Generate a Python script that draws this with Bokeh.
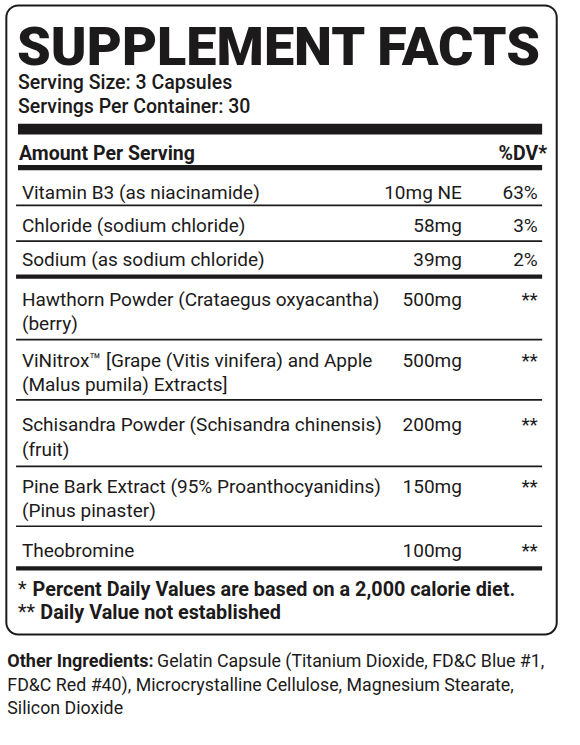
from bokeh.plotting import figure
from bokeh.models import Range1d, BoxAnnotation, ColumnDataSource
from bokeh.core.properties import value
from bokeh.embed import file_html
from bokeh.resources import INLINE

# ---------------- data ----------------
title = "SUPPLEMENT FACTS"
serving_lines = ["Serving Size: 3 Capsules", "Servings Per Container: 30"]
header_left = "Amount Per Serving"
header_right = "%DV*"

nutrients = [
    "Vitamin B3 (as niacinamide)",
    "Chloride (sodium chloride)",
    "Sodium (as sodium chloride)",
]
nutrient_amounts = ["10mg NE", "58mg", "39mg"]
nutrient_dv = ["63%", "3%", "2%"]

ingredients = [
    "Hawthorn Powder (Crataegus oxyacantha)\n(berry)",
    "ViNitrox\u2122 [Grape (Vitis vinifera) and Apple\n(Malus pumila) Extracts]",
    "Schisandra Powder (Schisandra chinensis)\n(fruit)",
    "Pine Bark Extract (95% Proanthocyanidins)\n(Pinus pinaster)",
    "Theobromine",
]
ingredient_amounts = ["500mg", "500mg", "200mg", "150mg", "100mg"]
ingredient_dv = ["**", "**", "**", "**", "**"]

footnote_marks = ["*", "**"]
footnote_texts = ["Percent Daily Values are based on a 2,000 calorie diet.",
                  "Daily Value not established"]

other_label = "Other Ingredients:"
other_lines = [
    "Gelatin Capsule (Titanium Dioxide, FD&C Blue #1,",
    "FD&C Red #40), Microcrystalline Cellulose, Magnesium Stearate,",
    "Silicon Dioxide",
]

# ---------------- layout (reference pixel space, y downwards) ----------------
TITLE_FONT = "Roboto Black"
MED_FONT = "Roboto Medium"
FONT = "Roboto"
INK = "#1c1a1a"
BODY = 19.0
W, H = 564, 729
YS = H / 745.0
BASE_SHIFT = 0.34          # empirical baseline correction (em)
row_baselines = [202.7, 236.5, 271.5, 311.7, 374.5, 440.0, 503.0, 568.3]
row_rules = [209.3, 246.0, 282.2, 346.5, 408.2, 476.0, 537.3, 580.3]
LINE2 = 25.0
NAME_X, AMT_X, DV_X = 22, 474.5, 552.5
RULE_L, RULE_R = 16, 557

p = figure(width=W, height=H, x_range=Range1d(0, 580), y_range=Range1d(745, 0),
           output_backend="svg", toolbar_location=None, min_border=0,
           x_axis_location=None, y_axis_location=None, background_fill_color="white",
           border_fill_color="white")
p.grid.visible = False
p.outline_line_color = None

# outer rounded box
p.add_layout(BoxAnnotation(left=6, right=572, top=5, bottom=648, fill_color=None,
                           line_color=INK, line_alpha=1.0, line_width=2.0,
                           border_radius=12))

def txt(xs, ys, texts, size=BODY, bold=False, align="left", font=FONT):
    ys = [y - BASE_SHIFT * size / YS for y in ys]
    src = ColumnDataSource(dict(x=xs, y=ys, t=texts))
    p.text(x="x", y="y", text="t", source=src, text_font=value(font),
           text_font_size=value(f"{size}px"), text_font_style="bold" if bold else "normal",
           text_align=align, text_baseline="alphabetic", text_color=INK,
           text_line_height=1.0)

# title and serving info
txt([17], [66], [title], size=54.0, font=TITLE_FONT)
txt([18, 18], [91, 115], serving_lines, size=19.5, font=MED_FONT)

# heavy bars and header
p.quad(left=[18, 18], right=[RULE_R, RULE_R], top=[126, 168], bottom=[137, 173.5],
       fill_color=INK, line_color=None)
txt([19], [163], [header_left], size=19.5, bold=True)
txt([562], [163], [header_right], size=19.5, bold=True, align="right")

# rows
names = nutrients + ingredients
amounts = nutrient_amounts + ingredient_amounts
dvs = nutrient_dv + ingredient_dv
nx, ny, nt = [], [], []
for name, base in zip(names, row_baselines):
    for j, part in enumerate(name.split("\n")):
        nx.append(NAME_X)
        ny.append(base + j * LINE2)
        nt.append(part)
txt(nx, ny, nt)
txt([AMT_X] * len(amounts), row_baselines, amounts, align="right")
txt([DV_X] * len(dvs), row_baselines, dvs, align="right")

# rules between rows
group_ends = {len(nutrients) - 1, len(names) - 1}
widths = [4.4 if i in group_ends else 1.7 for i in range(len(names))]
p.segment(x0=[RULE_L] * len(row_rules), x1=[RULE_R] * len(row_rules),
          y0=row_rules, y1=row_rules, line_color=INK, line_width=widths)

# footnotes
fb = [609, 632]
txt([18, 18], fb, footnote_marks, size=19.8)
txt([18 + 8 * len(m) + 7 for m in footnote_marks], fb, footnote_texts, bold=True, size=19.8)

# other ingredients
ob = [681, 705, 729]
txt([7], [ob[0]], [other_label], bold=True, size=18.0)
txt([161, 7, 7], ob, other_lines, size=17.8)

open("out.html", "w").write(file_html(p, INLINE))
